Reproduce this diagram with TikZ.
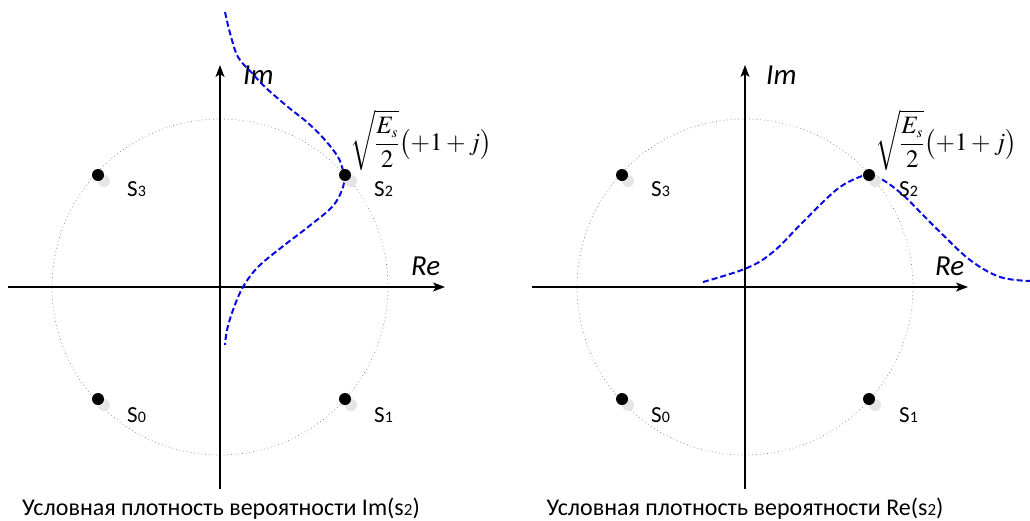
\documentclass[tikz,border=0pt]{standalone}
\usepackage{mathptmx}
\usepackage[no-math]{fontspec}
\setmainfont{Carlito}
\usetikzlibrary{arrows.meta}
\definecolor{densblue}{RGB}{10,10,225}
\newcommand\slab[1]{S{\fontsize{16}{16}\selectfont #1}}
\newcommand\ampl{$\displaystyle\sqrt{\frac{E_{\scriptscriptstyle s}}{2}}\bigl(+1+j\bigr)$}
\begin{document}
\begin{tikzpicture}[x=1pt,y=-1pt,
  axis/.style={line width=1.1pt,-{Stealth[length=12pt,width=9pt,inset=3pt]}},
  ring/.style={gray,line width=0.7pt,dash pattern=on 0.7pt off 3pt},
  dens/.style={densblue,line width=2pt,dash pattern=on 6pt off 3pt},
  pt/.style={circle,fill=black,inner sep=0pt,minimum size=12pt},
  shadow/.style={circle,fill=black!10,inner sep=0pt,minimum size=12pt},
  slbl/.style={anchor=base west,inner sep=0pt,font=\fontsize{23}{25}\selectfont},
  axlbl/.style={anchor=base west,inner sep=0pt,font=\fontsize{29}{30}\selectfont\itshape},
  caplbl/.style={anchor=base,inner sep=0pt,font=\fontsize{24}{26}\selectfont},
  mathlbl/.style={inner sep=0pt,font=\fontsize{25}{29}\selectfont}]
\useasboundingbox (0,0) rectangle (1030,520);
% ---------- left panel ----------
\coordinate (lc) at (220,287);
\draw[ring] (lc) circle[radius=168pt];
\coordinate (lvb) at (220,489);
\coordinate (lvt) at (220,65);
\coordinate (lhl) at (8,287);
\coordinate (lhr) at (445,287);
\draw[axis] (lvb) -- (lvt);
\draw[axis] (lhl) -- (lhr);
\node[axlbl] (lim) at (243,84) {Im};
\node[axlbl] (lre) at (411,275) {Re};
\node[mathlbl] (lmath) at (421,140) {\ampl};
\draw[dens] plot[smooth,tension=0.6] coordinates {(225,12) (230,33) (238,57) (252,73) (265,87) (288,107) (308,123) (325,140) (338,157) (343,170) (345,175) (342,190) (332,207) (308,227) (282,247) (258,267) (243,287) (233,310) (227,330) (225,345)};
\node[shadow] (ls3s) at (104,181) {};
\node[shadow] (ls2s) at (351,181) {};
\node[shadow] (ls0s) at (104,405) {};
\node[shadow] (ls1s) at (351,405) {};
\node[pt] (ls3) at (98,175) {};
\node[pt] (ls2) at (345,175) {};
\node[pt] (ls0) at (98,399) {};
\node[pt] (ls1) at (345,399) {};
\node[slbl] (lt3) at (127,196) {\slab{3}};
\node[slbl] (lt2) at (374,196) {\slab{2}};
\node[slbl] (lt0) at (127,422) {\slab{0}};
\node[slbl] (lt1) at (374,422) {\slab{1}};
\node[caplbl] (lcap) at (221,515) {Условная плотность вероятности Im(s{\fontsize{17}{17}\selectfont 2})};
% ---------- right panel ----------
\coordinate (rc) at (745,287);
\draw[ring] (rc) circle[radius=168pt];
\coordinate (rvb) at (745,489);
\coordinate (rvt) at (745,65);
\coordinate (rhl) at (532,287);
\coordinate (rhr) at (968,287);
\draw[axis] (rvb) -- (rvt);
\draw[axis] (rhl) -- (rhr);
\node[axlbl] (rim) at (766,84) {Im};
\node[axlbl] (rre) at (935,275) {Re};
\node[mathlbl] (rmath) at (946,140) {\ampl};
\draw[dens] plot[smooth,tension=0.6] coordinates {(703,282) (747,268) (773,252) (800,225) (823,202) (840,187) (857,178) (869,175) (883,180) (903,195) (923,215) (940,232) (970,260) (1000,277) (1030,281)};
\node[shadow] (rs3s) at (628,181) {};
\node[shadow] (rs2s) at (875,181) {};
\node[shadow] (rs0s) at (628,405) {};
\node[shadow] (rs1s) at (875,405) {};
\node[pt] (rs3) at (622,175) {};
\node[pt] (rs2) at (869,175) {};
\node[pt] (rs0) at (622,399) {};
\node[pt] (rs1) at (869,399) {};
\node[slbl] (rt3) at (651,196) {\slab{3}};
\node[slbl] (rt2) at (899,196) {\slab{2}};
\node[slbl] (rt0) at (651,422) {\slab{0}};
\node[slbl] (rt1) at (899,422) {\slab{1}};
\node[caplbl] (rcap) at (745,515) {Условная плотность вероятности Re(s{\fontsize{17}{17}\selectfont 2})};
\end{tikzpicture}
\end{document}
